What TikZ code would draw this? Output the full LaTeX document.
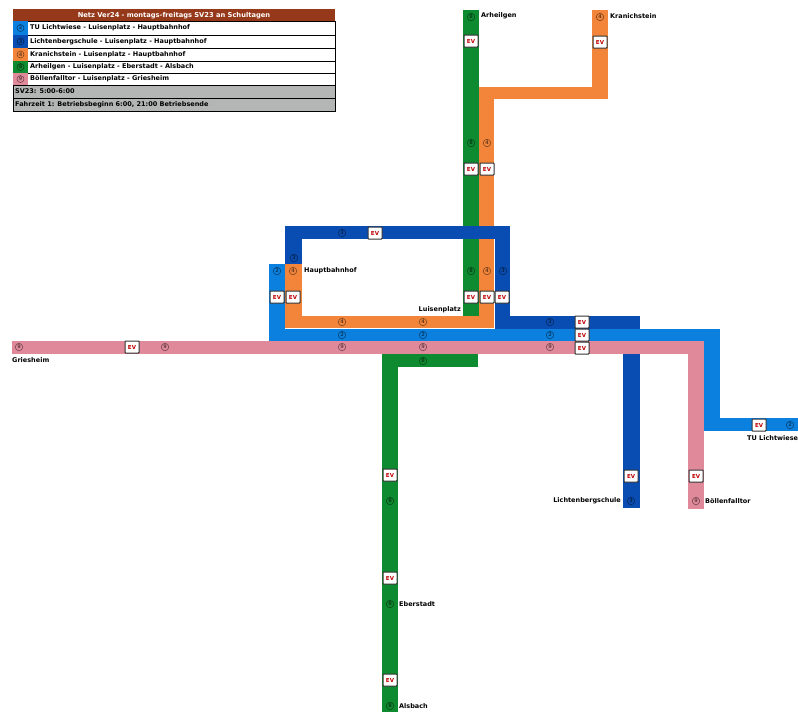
\documentclass[tikz,border=0pt]{standalone}
\usepackage{fontspec}
\setmainfont{DejaVu Sans}
\definecolor{linepink}{HTML}{E0899A}
\definecolor{linelight}{HTML}{0B80DE}
\definecolor{linedark}{HTML}{0A4DB2}
\definecolor{lineorange}{HTML}{F2853A}
\definecolor{linegreen}{HTML}{0E8A30}
\definecolor{titlebrown}{HTML}{96391A}
\definecolor{rowgray}{HTML}{B4B6B6}
\tikzset{
  evbox/.style={draw=black!80,line width=1pt,fill=white,rounded corners=0.6pt,minimum width=14pt,minimum height=12pt,inner sep=0pt,text=red!75!black,font=\bfseries\fontsize{5.5}{6}\selectfont},
  linenum/.style={circle,draw=black,line width=0.5pt,minimum size=7.5pt,inner sep=0pt,opacity=0.55,text=black,font=\bfseries\fontsize{5}{5}\selectfont},
  stationlabel/.style={inner sep=0pt,font=\bfseries\fontsize{6.5}{7}\selectfont},
  legendtext/.style={anchor=west,inner sep=0pt,font=\bfseries\fontsize{6.5}{7}\selectfont}
}
\begin{document}
\begin{tikzpicture}[x=1pt,y=-1pt]
\clip (0,0) rectangle (798,713);
\fill[white] (0,0) rectangle (798,713);
% lines, back to front
\foreach \xa/\ya/\xb/\yb in {285/226/302/264, 495/226/510/329, 495/316/640/329, 623/316/640/508}
  \fill[linedark] (\xa,\ya) rectangle (\xb,\yb);
\foreach \xa/\ya/\xb/\yb in {269/264/285/342, 269/329/720/342, 704/329/720/431, 704/418/798/431}
  \fill[linelight] (\xa,\ya) rectangle (\xb,\yb);
\foreach \xa/\ya/\xb/\yb in {285/264/302/328, 285/316/494/328, 479/87/494/328, 479/87/608/99, 592/10/608/99}
  \fill[lineorange] (\xa,\ya) rectangle (\xb,\yb);
\foreach \xa/\ya/\xb/\yb in {463/10/479/316, 382/354/478/367, 382/354/398/712}
  \fill[linegreen] (\xa,\ya) rectangle (\xb,\yb);
\foreach \xa/\ya/\xb/\yb in {12/341/704/354, 688/341/704/509}
  \fill[linepink] (\xa,\ya) rectangle (\xb,\yb);
% top band crosses over green and orange
\fill[linedark] (285,226) rectangle (510,239);
% line numbers
\foreach \x/\y/\n in {19/347/9, 165/347/9, 342/347/9, 423/347/9, 550/347/9, 696/501/9,
  342/335/2, 423/335/2, 550/335/2, 277/271/2, 790/425/2,
  342/233/3, 294/258/3, 503/271/3, 550/322/3, 631/501/3,
  342/322/4, 423/322/4, 293/271/4, 487/271/4, 487/143/4, 600/17/4,
  471/17/8, 471/143/8, 471/271/8, 423/361/8, 390/501/8, 390/604/8, 390/706/8}
  \node[linenum] (num\x-\y) at (\x,\y) {\n};
% boxes
\foreach \x/\y in {132/347, 277/297, 293/297, 471/297, 487/297, 502/297, 375/233,
  471/41, 600/42, 471/169, 487/169, 582/322, 582/335, 582/348, 759/425,
  631/476, 696/476, 390/475, 390/578, 390/680}
  \node[evbox] (ev\x-\y) at (\x,\y) {EV};
% stations
\node[stationlabel,anchor=west] (griesheim) at (12,360) {Griesheim};
\node[stationlabel,anchor=west] (hauptbahnhof) at (304,271) {Hauptbahnhof};
\node[stationlabel,anchor=east] (luisenplatz) at (461,310) {Luisenplatz};
\node[stationlabel,anchor=west] (arheilgen) at (481,16) {Arheilgen};
\node[stationlabel,anchor=west] (kranichstein) at (610,16) {Kranichstein};
\node[stationlabel,anchor=west] (lichtwiese) at (747,438) {TU Lichtwiese};
\node[stationlabel,anchor=east] (lichtenbergschule) at (621,501) {Lichtenbergschule};
\node[stationlabel,anchor=west] (boellenfalltor) at (705,501) {Böllenfalltor};
\node[stationlabel,anchor=west] (eberstadt) at (399,604) {Eberstadt};
\node[stationlabel,anchor=west] (alsbach) at (399,706) {Alsbach};
% legend
\fill[titlebrown] (13,9) rectangle (335,21);
\node[inner sep=0pt,text=white,font=\bfseries\fontsize{6.7}{7}\selectfont] (legendtitle) at (174,15.5) {Netz Ver24 - montags-freitags SV23 an Schultagen};
\foreach \ya/\yb/\col/\n/\txt in {
  21/35/linelight/2/TU Lichtwiese - Luisenplatz - Hauptbahnhof,
  35/48/linedark/3/Lichtenbergschule - Luisenplatz - Hauptbahnhof,
  48/61/lineorange/4/Kranichstein - Luisenplatz - Hauptbahnhof,
  61/73/linegreen/8/Arheilgen - Luisenplatz - Eberstadt - Alsbach,
  73/85/linepink/9/Böllenfalltor - Luisenplatz - Griesheim} {
  \draw[black,line width=0.7pt,fill=white] (13,\ya) rectangle (335,\yb);
  \fill[\col] (13,\ya) rectangle (28,\yb);
  \node[linenum,minimum size=7pt] (legendnum\n) at (20.5,{(\ya+\yb)/2}) {\n};
  \node[legendtext] (legend\n) at (30,{(\ya+\yb)/2}) {\txt};
}
\draw[black,line width=0.7pt,fill=rowgray] (13,85) rectangle (335,98);
\draw[black,line width=0.7pt,fill=rowgray] (13,98) rectangle (335,111);
\node[legendtext] (legendsv) at (15,91.5) {SV23: 5:00-6:00};
\node[legendtext] (legendzeit) at (15,104.5) {Fahrzeit 1: Betriebsbeginn 6:00, 21:00 Betriebsende};
\end{tikzpicture}
\end{document}
